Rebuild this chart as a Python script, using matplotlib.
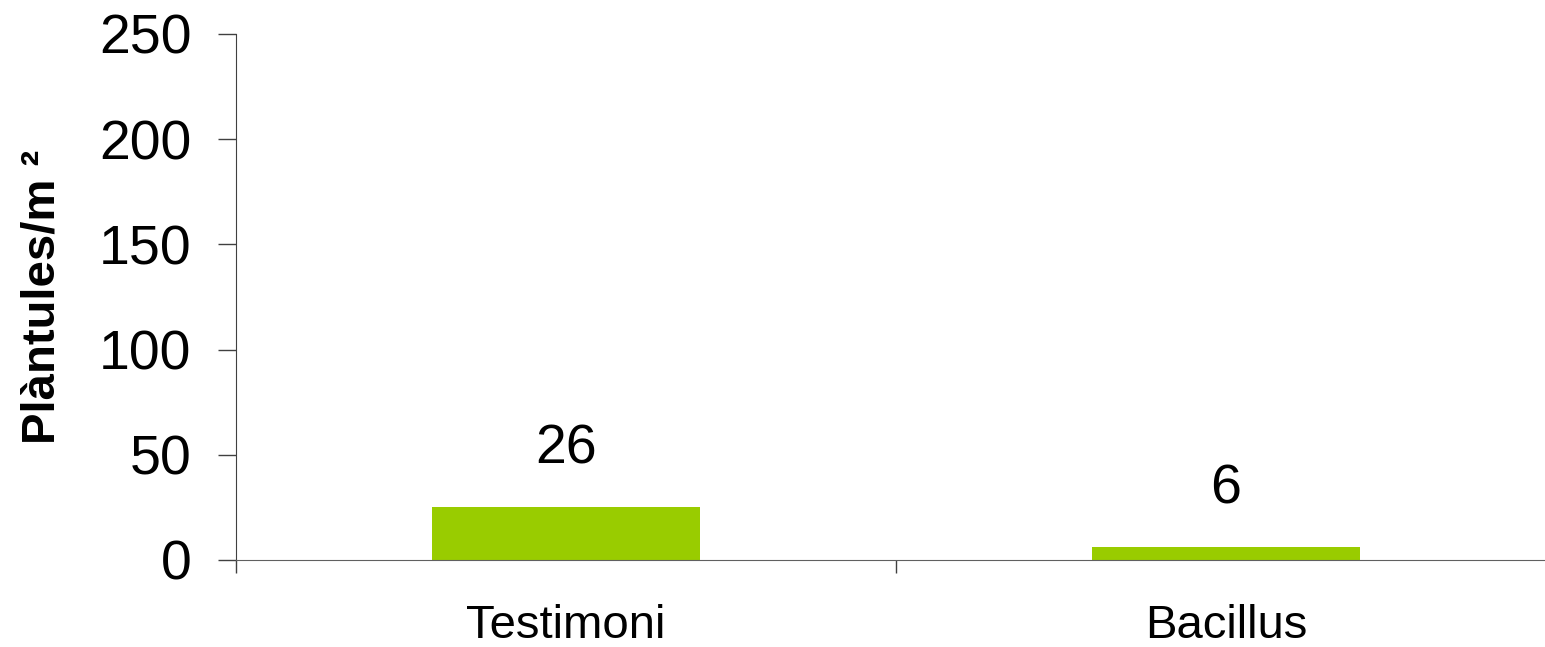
import matplotlib.pyplot as plt
import numpy as np

plt.rcParams['font.family'] = ['Liberation Sans', 'DejaVu Sans']

categories = ['Testimoni', 'Bacillus']
values = [25, 6]
value_labels = ['26', '6']
yticks = [0, 50, 100, 150, 200, 250]

W, H = 1545, 647
fig = plt.figure(figsize=(W / 100, H / 100), dpi=100)
ax = fig.add_axes([236 / W, (H - 560) / H, 1320 / W, 526 / H])

x = np.arange(len(categories))
ax.bar(x, values, width=0.405, color='#99CC00', zorder=2)
for xi, v, lab in zip(x, values, value_labels):
    ax.annotate(lab, (xi, v), xytext=(0, 42), textcoords='offset points',
                ha='center', va='center', fontsize=40)

ax.set_xlim(-0.5, 1.5)
ax.set_ylim(0, 250)
ax.set_yticks(yticks)
ax.set_xticks([-0.5, 0.5, 1.5])
ax.set_xticklabels([])
ax.set_xticks(x, minor=True)
ax.set_xticklabels(categories, minor=True, fontsize=34)
ax.tick_params(axis='x', which='minor', length=0, pad=32)
ax.tick_params(axis='x', which='major', length=9, width=1, color='#404040', direction='out')
ax.tick_params(axis='y', length=13, width=1, color='#404040', labelsize=40, pad=19)

for s in ['top', 'right']:
    ax.spines[s].set_visible(False)
ax.spines['left'].set_color('#404040')
ax.spines['bottom'].set_color('#606060')

ax.set_ylabel('Plàntules/m ²', fontsize=34, fontweight='bold')
ax.yaxis.set_label_coords(-(236 - 65) / 1320, 0.5)

fig.savefig('out.png', dpi=100)
